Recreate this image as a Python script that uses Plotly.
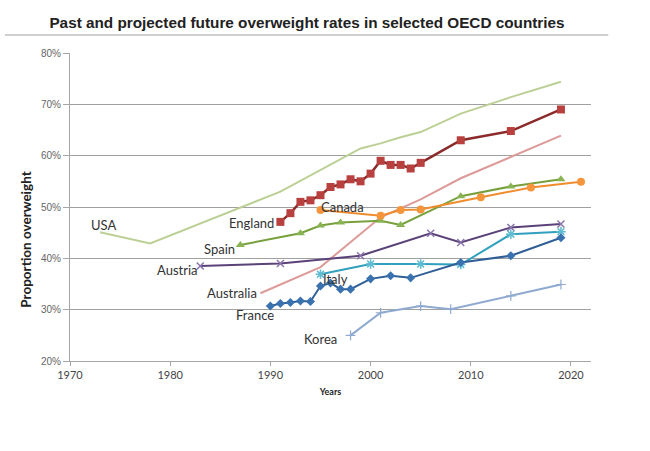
import plotly.graph_objects as go

# ---- data ----
usa_years = [1973, 1978, 1991, 1999, 2001, 2003, 2005, 2009, 2014, 2019]
usa_vals = [45.1, 42.9, 53.0, 61.4, 62.4, 63.6, 64.6, 68.2, 71.4, 74.4]

england_years = [1991, 1992, 1993, 1994, 1995, 1996, 1997, 1998, 1999, 2000,
                 2001, 2002, 2003, 2004, 2005, 2009, 2014, 2019]
england_vals = [47.1, 48.8, 51.0, 51.3, 52.3, 53.9, 54.4, 55.4, 55.0, 56.5,
                59.0, 58.2, 58.2, 57.5, 58.6, 63.0, 64.8, 69.0]

australia_years = [1989, 1995, 2001, 2005, 2009, 2014, 2019]
australia_vals = [33.2, 38.3, 48.0, 51.5, 55.6, 59.8, 63.9]

canada_years = [1995, 2001, 2003, 2005, 2011, 2016, 2021]
canada_vals = [49.4, 48.3, 49.4, 49.5, 51.9, 53.8, 54.9]

spain_years = [1987, 1993, 1995, 1997, 2001, 2003, 2009, 2014, 2019]
spain_vals = [42.6, 44.9, 46.4, 47.0, 47.3, 46.5, 52.1, 54.0, 55.4]

austria_years = [1983, 1991, 1999, 2006, 2009, 2014, 2019]
austria_vals = [38.5, 39.0, 40.5, 44.9, 43.1, 46.0, 46.7]

italy_years = [1995, 2000, 2005, 2009, 2014, 2019]
italy_vals = [36.9, 38.9, 38.9, 38.8, 44.7, 45.2]

france_years = [1990, 1991, 1992, 1993, 1994, 1995, 1996, 1997, 1998,
                2000, 2002, 2004, 2009, 2014, 2019]
france_vals = [30.7, 31.2, 31.4, 31.7, 31.6, 34.6, 35.2, 34.0, 34.0,
               36.0, 36.6, 36.2, 39.2, 40.5, 44.0]

korea_years = [1998, 2001, 2005, 2008, 2014, 2019]
korea_vals = [25.0, 29.4, 30.7, 30.1, 32.7, 34.9]

label_names = ["USA", "England", "Spain", "Austria", "Australia", "France", "Korea", "Canada", "Italy"]
label_x = [1973.3, 1988.1, 1984.9, 1980.7, 1986.2, 1988.5, 1995.0, 1997.2, 1996.5]
label_y = [46.5, 46.9, 41.8, 37.8, 33.3, 28.9, 24.3, 50.0, 36.0]

x_ticks = [1970, 1980, 1990, 2000, 2010, 2020]
y_ticks = [20, 30, 40, 50, 60, 70, 80]
y_tick_text = [f"{v}%" for v in y_ticks]

fig = go.Figure()

def add(xs, ys, name, line_color, width=2, marker=None):
    kw = dict(x=xs, y=ys, name=name, line=dict(color=line_color, width=width))
    if marker:
        kw["mode"] = "lines+markers"
        kw["marker"] = marker
    else:
        kw["mode"] = "lines"
    fig.add_trace(go.Scatter(**kw))

add(usa_years, usa_vals, "USA", "#bcd095", 2)
add(australia_years, australia_vals, "Australia", "#dc9a98", 2)
add(korea_years, korea_vals, "Korea", "#8eaad0", 2,
    dict(symbol="cross-thin", size=7, line=dict(color="#8eaad0", width=1.2)))
add(austria_years, austria_vals, "Austria", "#5b4279", 2,
    dict(symbol="x-thin", size=7, line=dict(color="#8a76ad", width=1.5)))
add(italy_years, italy_vals, "Italy", "#31a0bd", 2,
    dict(symbol="asterisk", size=8, line=dict(color="#5fbcd3", width=1.5)))
add(france_years, france_vals, "France", "#2f5f96", 2,
    dict(symbol="diamond", size=7, color="#3a72b0"))
add(spain_years, spain_vals, "Spain", "#77a03c", 2,
    dict(symbol="triangle-up", size=8, color="#8ab454"))
add(canada_years, canada_vals, "Canada", "#f08c2e", 2,
    dict(symbol="circle", size=8, color="#f4953c"))
add(england_years, england_vals, "England", "#8b2a2a", 2.5,
    dict(symbol="square", size=8, color="#b8413f"))

for name, lx, ly in zip(label_names, label_x, label_y):
    fig.add_annotation(x=lx, y=ly, xref="x", yref="y", text=name, showarrow=False,
                       font=dict(family="Lato", size=13, color="#333333"))

# y-axis title placed like the original (below the plot's vertical centre)
fig.add_annotation(x=(26-70)/520.7, y=(361.5-240)/308.5, xref="paper", yref="paper",
                   text="<b>Proportion overweight</b>", textangle=-90, showarrow=False,
                   xanchor="center", yanchor="middle",
                   font=dict(family="Lato", size=13.5, color="#222222"))

fig.update_layout(
    width=650, height=451,
    margin=dict(l=70, r=59, t=53, b=89.5),
    paper_bgcolor="white", plot_bgcolor="white",
    showlegend=False,
    title=dict(text="<b>Past and projected future overweight rates in selected OECD countries</b>",
               x=307/650, xanchor="center", y=1-23/451, yanchor="middle",
               font=dict(family="Liberation Sans", size=15.3, color="#222222")),
)

fig.update_xaxes(range=[1970, 2022], tickvals=x_ticks, ticktext=[str(v) for v in x_ticks],
                 showgrid=False, zeroline=False, showline=True, linecolor="#a6a6a6", linewidth=1,
                 ticks="outside", ticklen=4, tickcolor="#a6a6a6",
                 tickfont=dict(family="Lato", size=11, color="#444444"),
                 title=dict(text="<b>Years</b>", font=dict(family="Lato", size=9, color="#222222"),
                            standoff=8))
fig.update_yaxes(range=[20, 80], tickvals=y_ticks, ticktext=y_tick_text,
                 showgrid=True, gridcolor="#a0a0a0", gridwidth=1, zeroline=False,
                 showline=True, linecolor="#a6a6a6", linewidth=1,
                 ticks="outside", ticklen=6, tickcolor="#a6a6a6",
                 tickfont=dict(family="Liberation Sans", size=10, color="#666666"))

# separator line under the title
fig.add_shape(type="line", xref="paper", yref="paper",
              x0=(5-70)/520.7, x1=(608-70)/520.7, y0=(361.5-35)/308.5, y1=(361.5-35)/308.5,
              line=dict(color="#a0a0a0", width=1))

fig.write_html("out.html")
